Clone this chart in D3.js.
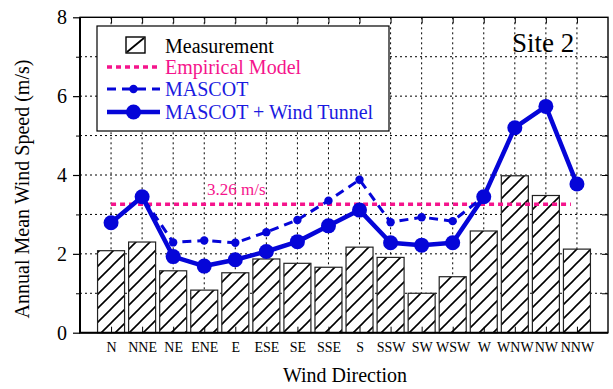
<!DOCTYPE html>
<html><head><meta charset="utf-8">
<script src="https://cdn.jsdelivr.net/npm/d3@7"></script>
<style>
body{margin:0;background:#fff;}
svg{display:block;font-family:"Liberation Serif","Times New Roman",serif;}
</style></head>
<body><svg id="c" width="613" height="389"></svg>
<script>
const directions = ["N","NNE","NE","ENE","E","ESE","SE","SSE","S","SSW","SW","WSW","W","WNW","NW","NNW"];
const measurement = [2.08,2.30,1.57,1.08,1.52,1.87,1.76,1.66,2.17,1.91,1.00,1.42,2.58,3.98,3.48,2.12];
const mascot = [2.79,3.45,2.29,2.34,2.28,2.55,2.86,3.35,3.88,2.80,2.93,2.83,3.45,5.20,5.74,3.77];
const mascotWT = [2.79,3.45,1.93,1.69,1.85,2.06,2.31,2.71,3.11,2.28,2.22,2.28,3.45,5.20,5.74,3.77];
const empirical = 3.26;
const yMajor = [0,2,4,6,8];
const yMinor = [1,3,5,7];
const legendLabels = ["Measurement","Empirical Model","MASCOT","MASCOT + Wind Tunnel"];

const BLUE = "#0505d8", PINK = "#f5148c";
const L = 80, R = 608, T = 17.3, B = 332.7;
const svg = d3.select("#c");

const defs = svg.append("defs");
const pat = defs.append("pattern").attr("id","hatch").attr("patternUnits","userSpaceOnUse")
  .attr("width",14).attr("height",14);
pat.append("rect").attr("width",14).attr("height",14).attr("fill","#fff");
pat.append("path").attr("d","M-2,16 L16,-2 M-9,9 L9,-9 M5,23 L23,5").attr("stroke","#000").attr("stroke-width",1.6);

const x = d3.scalePoint().domain(directions).range([L,R]).padding(1);
const y = d3.scaleLinear().domain([0,8]).range([B,T]);

// grid
const grid = svg.append("g").attr("stroke","#000").attr("stroke-width",1).attr("stroke-dasharray","2,3");
grid.selectAll("line.h").data(d3.range(1,8)).join("line").attr("class","h")
  .attr("x1",L).attr("x2",R).attr("y1",d=>y(d)).attr("y2",d=>y(d));
grid.selectAll("line.v").data(directions).join("line").attr("class","v")
  .attr("x1",d=>x(d)).attr("x2",d=>x(d)).attr("y1",T).attr("y2",B);

// bars
const bw = 27;
svg.append("g").selectAll("rect").data(measurement).join("rect")
  .attr("x",(d,i)=>x(directions[i])-bw/2).attr("width",bw)
  .attr("y",d=>y(d)).attr("height",d=>B-y(d))
  .attr("fill","url(#hatch)").attr("stroke","#222").attr("stroke-width",1.2);

// legend box (white background covering grid)
const lg = svg.append("g");
lg.append("rect").attr("x",97).attr("y",26).attr("width",292).attr("height",105)
  .attr("fill","#fff").attr("stroke","#000").attr("stroke-width",1.2);

// empirical line
svg.append("line").attr("x1",x("N")).attr("x2",x("NNW")-6).attr("y1",y(empirical)).attr("y2",y(empirical))
  .attr("stroke",PINK).attr("stroke-width",3.5).attr("stroke-dasharray","5,4");
svg.append("text").attr("x",207).attr("y",195).attr("fill",PINK).attr("font-size",17).text(empirical.toFixed(2)+" m/s");

// MASCOT dashed
const line = d3.line().x((d,i)=>x(directions[i])).y(d=>y(d));
svg.append("path").datum(mascot).attr("d",line).attr("fill","none").attr("stroke",BLUE)
  .attr("stroke-width",3).attr("stroke-dasharray","9,6");
svg.append("g").selectAll("circle").data(mascot).join("circle")
  .attr("cx",(d,i)=>x(directions[i])).attr("cy",d=>y(d)).attr("r",4.2).attr("fill",BLUE);

// MASCOT + WT solid
svg.append("path").datum(mascotWT).attr("d",line).attr("fill","none").attr("stroke",BLUE)
  .attr("stroke-width",4.5).attr("stroke-linejoin","round");
svg.append("g").selectAll("circle").data(mascotWT).join("circle")
  .attr("cx",(d,i)=>x(directions[i])).attr("cy",d=>y(d)).attr("r",7.5).attr("fill",BLUE);

// axes
const fs = g=>g.attr("font-family",null);
svg.append("g").attr("transform",`translate(${L},0)`)
  .call(d3.axisLeft(y).tickValues(yMajor).tickSize(7).tickPadding(6))
  .call(g=>g.select(".domain").remove())
  .call(g=>g.selectAll("line").attr("stroke","#000").attr("stroke-width",1.2))
  .call(g=>g.selectAll("text").attr("font-size",20).attr("font-family","Liberation Serif").attr("fill","#000"));
svg.append("g").attr("transform",`translate(${L},0)`)
  .call(d3.axisLeft(y).tickValues(yMinor).tickSize(4).tickFormat(""))
  .call(g=>g.select(".domain").remove()).call(g=>g.selectAll("line").attr("stroke","#000"));
svg.append("g").attr("transform",`translate(${R},0)`)
  .call(d3.axisLeft(y).tickValues(d3.range(1,8)).tickSize(6).tickFormat(""))
  .call(g=>g.select(".domain").remove()).call(g=>g.selectAll("line").attr("stroke","#000"));
svg.append("g").attr("transform",`translate(0,${T})`)
  .call(d3.axisBottom(x).tickSize(6).tickFormat(""))
  .call(g=>g.select(".domain").remove()).call(g=>g.selectAll("line").attr("stroke","#000"));
svg.append("g").attr("transform",`translate(0,${B})`)
  .call(d3.axisTop(x).tickSize(6).tickFormat(""))
  .call(g=>g.select(".domain").remove()).call(g=>g.selectAll("line").attr("stroke","#000"));
svg.append("g").attr("transform",`translate(0,${B})`)
  .call(d3.axisBottom(x).tickSize(0).tickPadding(9))
  .call(g=>g.select(".domain").remove())
  .call(g=>g.selectAll("text").attr("font-size",14).attr("font-family","Liberation Serif").attr("fill","#000"));

// frame
svg.append("rect").attr("x",L).attr("y",T).attr("width",R-L).attr("height",B-T)
  .attr("fill","none").attr("stroke","#000").attr("stroke-width",1.4);
svg.append("line").attr("x1",L).attr("x2",L).attr("y1",T).attr("y2",B).attr("stroke","#000").attr("stroke-width",2);
svg.append("line").attr("x1",L-1).attr("x2",R).attr("y1",B).attr("y2",B).attr("stroke","#000").attr("stroke-width",2);

// legend entries
const rows = [46,67,89,112];
const lx1 = 107, lx2 = 160, tx = 165;
lg.append("rect").attr("x",126).attr("y",37).attr("width",19).attr("height",16).attr("fill","#fff").attr("stroke","#000").attr("stroke-width",1.4);
lg.append("line").attr("x1",127).attr("y1",52).attr("x2",144).attr("y2",38).attr("stroke","#000").attr("stroke-width",1.8);
lg.append("line").attr("x1",lx1).attr("x2",lx2).attr("y1",rows[1]).attr("y2",rows[1]).attr("stroke",PINK).attr("stroke-width",3.5).attr("stroke-dasharray","5,4");
lg.append("line").attr("x1",lx1).attr("x2",lx2).attr("y1",rows[2]).attr("y2",rows[2]).attr("stroke",BLUE).attr("stroke-width",3).attr("stroke-dasharray","9,6");
lg.append("circle").attr("cx",(lx1+lx2)/2).attr("cy",rows[2]).attr("r",4.2).attr("fill",BLUE);
lg.append("line").attr("x1",lx1).attr("x2",lx2).attr("y1",rows[3]).attr("y2",rows[3]).attr("stroke",BLUE).attr("stroke-width",4.5);
lg.append("circle").attr("cx",(lx1+lx2)/2).attr("cy",rows[3]).attr("r",7.5).attr("fill",BLUE);
const colors = ["#000",PINK,"#1a1ae0","#1a1ae0"];
lg.selectAll("text.l").data(legendLabels).join("text").attr("class","l")
  .attr("x",tx).attr("y",(d,i)=>rows[i]+7).attr("font-size",20).attr("fill",(d,i)=>colors[i]).text(d=>d);

// site label
svg.append("text").attr("x",512).attr("y",52).attr("font-size",27).attr("fill","#000").text("Site 2");

// axis titles
svg.append("text").attr("transform","translate(29,189) rotate(-90)").attr("text-anchor","middle")
  .attr("font-size",20).attr("fill","#000").text("Annual Mean Wind Speed (m/s)");
svg.append("text").attr("x",345).attr("y",382).attr("text-anchor","middle")
  .attr("font-size",20).attr("fill","#000").text("Wind Direction");
</script></body></html>
